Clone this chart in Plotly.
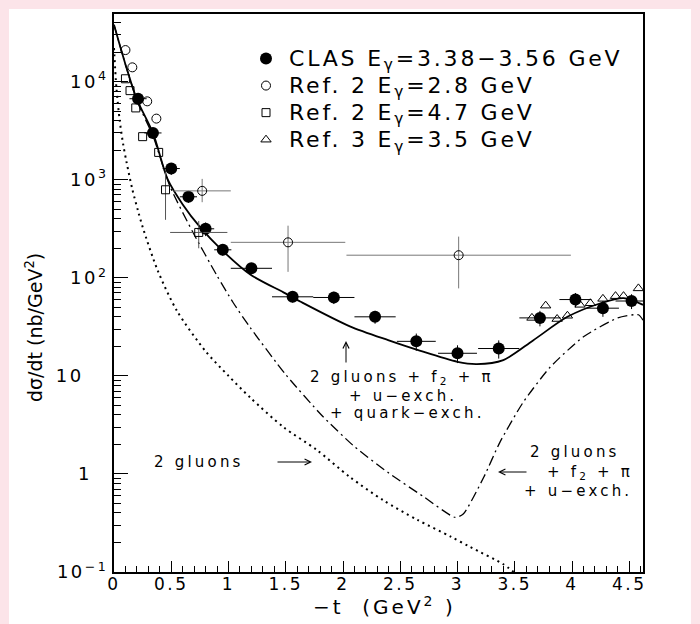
import plotly.graph_objects as go

# ---------------- data ----------------
clas_t = [0.21, 0.34, 0.50, 0.65, 0.80, 0.95, 1.20, 1.56, 1.92, 2.28, 2.64, 3.00, 3.36, 3.72, 4.03, 4.27, 4.52]
clas_y = [6700, 3000, 1300, 670, 316, 193, 125, 64, 63, 40, 22.5, 17, 19, 39, 60, 49, 58]
clas_dt = [0.075, 0.075, 0.075, 0.075, 0.075, 0.075, 0.18, 0.18, 0.18, 0.18, 0.17, 0.17, 0.18, 0.18, 0.14, 0.14, 0.14]
clas_dy = [800, 380, 180, 90, 50, 25, 16, 8, 9, 6, 4.5, 3.5, 4, 7, 10, 9, 10]

ref2a_t = [0.10, 0.16, 0.29, 0.37, 0.77, 1.52, 3.01]
ref2a_y = [21000, 14000, 6300, 4200, 770, 230, 170]
ref2a_dt = [0, 0, 0, 0, 0.25, 0.5, 0.98]
ref2a_dyp = [0, 0, 0, 0, 250, 110, 93]
ref2a_dym = [0, 0, 0, 0, 180, 115, 92]

ref2b_t = [0.10, 0.14, 0.19, 0.25, 0.39, 0.45, 0.74]
ref2b_y = [10700, 8100, 5400, 2750, 1900, 790, 290]
ref2b_dt = [0, 0, 0, 0, 0, 0, 0.25]
ref2b_dy = [0, 0, 0, 0, 0, 400, 90]

ref3_t = [3.65, 3.77, 3.87, 3.96, 4.07, 4.16, 4.27, 4.38, 4.45, 4.58]
ref3_y = [39, 52, 38, 41, 53, 55, 61, 65, 65, 78]

full_t = [0.0, 0.1, 0.2, 0.34, 0.47, 0.6, 0.75, 0.94, 1.19, 1.48, 1.63, 2.06, 2.4, 2.65, 3.0, 3.17, 3.4, 3.66, 3.96, 4.25, 4.45, 4.62]
full_y = [38000, 15000, 6600, 3000, 1000, 560, 330, 193, 108, 71, 57, 32, 23, 18.4, 13.9, 13.2, 14.5, 23, 40, 55, 62, 53]

noq_t = [0.0, 0.1, 0.2, 0.34, 0.49, 0.69, 0.9, 1.04, 1.19, 1.5, 1.82, 2.1, 2.4, 2.7, 2.98, 3.05, 3.23, 3.37, 3.57, 3.81, 4.10, 4.40, 4.58, 4.62]
noq_y = [38000, 15000, 6400, 2800, 850, 290, 105, 56, 31, 10.3, 3.9, 1.9, 1.02, 0.59, 0.36, 0.39, 0.93, 2.1, 5.3, 12.3, 25, 39, 42, 37]

glu_t = [0.0, 0.02, 0.05, 0.08, 0.11, 0.16, 0.21, 0.25, 0.38, 0.55, 0.8, 1.0, 1.19, 1.48, 1.77, 2.06, 2.35, 2.65, 2.94, 3.11, 3.4, 3.49]
glu_y = [22000, 9000, 4000, 2300, 1500, 800, 480, 330, 120, 46, 17.8, 10, 6.0, 3.0, 1.76, 0.93, 0.54, 0.34, 0.23, 0.18, 0.12, 0.1]

x_ticks = [0, 0.5, 1, 1.5, 2, 2.5, 3, 3.5, 4, 4.5]
x_ticktext = ["0", "0.5", "1", "1.5", "2", "2.5", "3", "3.5", "4", "4.5"]
y_ticks = [0.1, 1, 10, 100, 1000, 10000]
y_ticktext = ["10<sup>−1</sup>", "1&nbsp;&nbsp;", "10&nbsp;&nbsp;&nbsp;",
              "10<sup>2</sup>", "10<sup>3</sup>", "10<sup>4</sup>"]

FONT = "DejaVu Sans"
PINK = "#FCE4E9"


def spaced(s, ls, size=None):
    st = "letter-spacing:%spx" % ls
    if size:
        st += ";font-size:%spx" % size
    return "<span style='%s'>%s</span>" % (st, s)


fig = go.Figure()

# theory curves
fig.add_trace(go.Scatter(x=glu_t, y=glu_y, mode="lines", showlegend=False,
                         line=dict(color="black", width=2, dash="2px,4px", shape="spline", smoothing=0.8)))
fig.add_trace(go.Scatter(x=noq_t, y=noq_y, mode="lines", showlegend=False,
                         line=dict(color="black", width=1.3, dash="10px,4px,2px,4px", shape="spline", smoothing=0.6)))
fig.add_trace(go.Scatter(x=full_t, y=full_y, mode="lines", showlegend=False,
                         line=dict(color="black", width=1.8, shape="spline", smoothing=0.8)))

# data sets
LEG_SIZE = 22
LEG_LS = 2.8
fig.add_trace(go.Scatter(x=clas_t, y=clas_y, mode="markers",
                         name=spaced("CLAS E<sub>γ</sub>=3.38−3.56 GeV", LEG_LS, LEG_SIZE),
                         marker=dict(symbol="circle", size=12, color="black"),
                         error_x=dict(type="data", array=clas_dt, color="black", thickness=1, width=0),
                         error_y=dict(type="data", array=clas_dy, color="black", thickness=1, width=0)))
fig.add_trace(go.Scatter(x=ref2a_t, y=ref2a_y, mode="markers",
                         name=spaced("Ref. 2 E<sub>γ</sub>=2.8 GeV", LEG_LS, LEG_SIZE),
                         marker=dict(symbol="circle-open", size=9, color="black", line=dict(width=1)),
                         error_x=dict(type="data", array=ref2a_dt, color="#777", thickness=1, width=0),
                         error_y=dict(type="data", array=ref2a_dyp, arrayminus=ref2a_dym, color="#777", thickness=1, width=0)))
fig.add_trace(go.Scatter(x=ref2b_t, y=ref2b_y, mode="markers",
                         name=spaced("Ref. 2 E<sub>γ</sub>=4.7 GeV", LEG_LS, LEG_SIZE),
                         marker=dict(symbol="square-open", size=8, color="black", line=dict(width=1)),
                         error_x=dict(type="data", array=ref2b_dt, color="#555", thickness=1, width=0),
                         error_y=dict(type="data", array=ref2b_dy, color="#555", thickness=1, width=0)))
fig.add_trace(go.Scatter(x=ref3_t, y=ref3_y, mode="markers",
                         name=spaced("Ref. 3 E<sub>γ</sub>=3.5 GeV", LEG_LS, LEG_SIZE),
                         marker=dict(symbol="triangle-up-open", size=9, color="black", line=dict(width=1))))


def px(xp):
    return (xp - 114) / 529.0


def py(yp):
    return (572 - yp) / 558.0


# white panel on pink page
fig.add_shape(type="rect", xref="paper", yref="paper", x0=px(9), x1=px(691), y0=py(700), y1=py(9),
              fillcolor="white", line=dict(width=0), layer="below")

ann = []


def txt(s, x, y, size=15, ls=3.2, **kw):
    ann.append(dict(text=spaced(s, ls), x=px(x), y=py(y), xref="paper", yref="paper", showarrow=False,
                    xanchor="center", yanchor="middle",
                    font=dict(family=FONT, size=size, color="black"), **kw))


def arrow(xt, yt, ax, ay):
    ann.append(dict(text="", x=px(xt), y=py(yt), xref="paper", yref="paper", showarrow=True,
                    ax=ax, ay=ay, arrowhead=5, arrowsize=1.2, arrowwidth=1, arrowcolor="black"))


txt("2 gluons + f<sub>2</sub> + π", 402, 378)
txt("+ u−exch.", 403, 396)
txt("+ quark−exch.", 407, 413)
arrow(346, 341, 0, 23)
txt("2 gluons", 199, 462)
arrow(312, 462, -36, 0)
txt("2 gluons", 575, 452)
txt("+ f<sub>2</sub> + π", 590, 472)
txt("+ u−exch.", 578, 491)
arrow(498, 472, 30, 0)
ann.append(dict(text="dσ/dt (nb/GeV<sup>2</sup>)", x=px(34), y=py(328), xref="paper", yref="paper",
                showarrow=False, xanchor="center", yanchor="middle", textangle=-90,
                font=dict(family=FONT, size=19, color="black")))
txt("−t  (GeV<sup>2</sup> )", 384, 606, size=20, ls=3)

fig.update_layout(
    width=700, height=624,
    margin=dict(l=114, r=57, t=14, b=52),
    paper_bgcolor=PINK, plot_bgcolor="white",
    font=dict(family=FONT, color="black"),
    annotations=ann,
    legend=dict(x=px(243), y=py(40), xanchor="left", yanchor="top",
                font=dict(family=FONT, size=18.5), bgcolor="rgba(0,0,0,0)",
                tracegroupgap=0, itemwidth=36),
    xaxis=dict(range=[0, 4.62], tickmode="array", tickvals=x_ticks,
               ticktext=[spaced(t, 2.5) for t in x_ticktext],
               ticks="inside", ticklen=11, tickwidth=1, tickcolor="black", ticklabelstandoff=-4,
               minor=dict(dtick=0.1, ticks="inside", ticklen=6, tickcolor="black", showgrid=False),
               showline=True, linewidth=2, linecolor="black", mirror=True,
               showgrid=False, zeroline=False, tickfont=dict(size=17)),
    yaxis=dict(type="log", range=[-1, 4.69], tickmode="array", tickvals=y_ticks,
               ticktext=[spaced(t, 2.5) for t in y_ticktext],
               ticks="inside", ticklen=14, tickwidth=1, tickcolor="black",
               minor=dict(tickvals=[k * 10 ** e for e in range(-1, 5) for k in range(2, 10)],
                          ticks="inside", ticklen=7, tickcolor="black", showgrid=False),
               showline=True, linewidth=2, linecolor="black", mirror=True,
               showgrid=False, zeroline=False, tickfont=dict(size=18)),
)

fig.write_html("out.html", config={"displayModeBar": False},
               post_script="document.body.style.margin='0';document.body.style.background='%s';" % PINK)
